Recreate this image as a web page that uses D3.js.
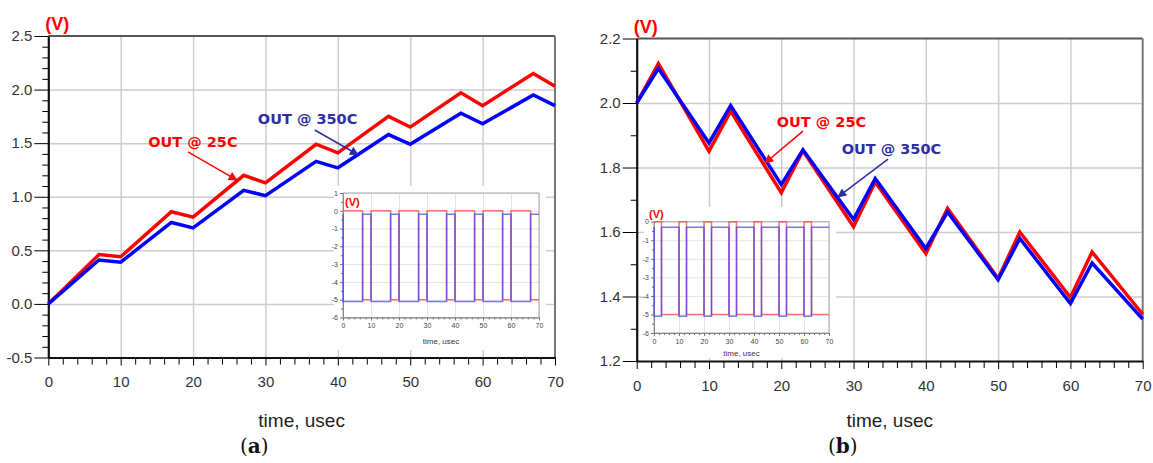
<!DOCTYPE html>
<html>
<head>
<meta charset="utf-8">
<script src="https://cdn.jsdelivr.net/npm/d3@7"></script>
<style>
  body { margin: 0; background: #fff; }
  svg { display: block; font-family: "Liberation Sans", Arial, sans-serif; }
</style>
</head>
<body>
<svg id="fig" width="1153" height="463"></svg>
<script>
// ---- data ----
const timeTicks = [0, 10, 20, 30, 40, 50, 60, 70];

// (a) output ramps
const timeA = [0, 7, 10, 17, 20, 27, 30, 37, 40, 47, 50, 57, 60, 67, 70];
const outA25 = [0, 0.46, 0.44, 0.86, 0.81, 1.20, 1.13, 1.49, 1.41, 1.75, 1.65, 1.97, 1.85, 2.15, 2.03];
const outA350 = [0, 0.41, 0.39, 0.76, 0.71, 1.06, 1.01, 1.33, 1.27, 1.58, 1.49, 1.78, 1.68, 1.95, 1.85];
const yTicksA = [-0.5, 0, 0.5, 1.0, 1.5, 2.0, 2.5];

// (b) output ramps
const timeB = [0, 3, 10, 13, 20, 23, 30, 33, 40, 43, 50, 53, 60, 63, 70];
const outB25 = [2.0, 2.122, 1.851, 1.975, 1.722, 1.852, 1.616, 1.755, 1.533, 1.673, 1.456, 1.60, 1.397, 1.538, 1.345];
const outB350 = [2.0, 2.107, 1.876, 1.992, 1.747, 1.855, 1.639, 1.766, 1.549, 1.662, 1.452, 1.58, 1.378, 1.504, 1.330];
const yTicksB = [1.2, 1.4, 1.6, 1.8, 2.0, 2.2];

// insets: control pulses (step after each time)
const insetTimeA = [0, 0, 7, 10, 17, 20, 27, 30, 37, 40, 47, 50, 57, 60, 67, 70];
const inA25 = [0, 0, -5, 0, -5, 0, -5, 0, -5, 0, -5, 0, -5, 0, -5, -5];
const inA350 = [-0.2, -5.1, -0.2, -5.1, -0.2, -5.1, -0.2, -5.1, -0.2, -5.1, -0.2, -5.1, -0.2, -5.1, -0.2, -0.2];
const insetYTicksA = [1, 0, -1, -2, -3, -4, -5, -6];

const insetTimeB = [0, 0, 3, 10, 13, 20, 23, 30, 33, 40, 43, 50, 53, 60, 63, 70];
const inB25 = [0, 0, -5, 0, -5, 0, -5, 0, -5, 0, -5, 0, -5, 0, -5, -5];
const inB350 = [-0.3, -5.1, -0.3, -5.1, -0.3, -5.1, -0.3, -5.1, -0.3, -5.1, -0.3, -5.1, -0.3, -5.1, -0.3, -0.3];
const insetYTicksB = [0, -1, -2, -3, -4, -5, -6];

// annotation anchors in data units [time, volts]
const labelsA = [
  { text: 'OUT @ 25C', at: [13.8, 1.46], from: [19.3, 1.418], to: [26.05, 1.156], color: '#ff0000' },
  { text: 'OUT @ 350C', at: [28.95, 1.676], from: [36.8, 1.623], to: [42.8, 1.392], color: '#2e2ea3' }
];
const labelsB = [
  { text: 'OUT @ 25C', at: [19.37, 1.926], from: [23.0, 1.913], to: [17.75, 1.814], color: '#ff0000' },
  { text: 'OUT @ 350C', at: [28.36, 1.842], from: [34.77, 1.826], to: [27.85, 1.709], color: '#2e2ea3' }
];

const svg = d3.select('#fig');
const defs = svg.append('defs');

function arrowMarker(id, color) {
  defs.append('marker')
    .attr('id', id)
    .attr('viewBox', '0 0 10 10')
    .attr('refX', 9).attr('refY', 5)
    .attr('markerWidth', 11).attr('markerHeight', 9)
    .attr('markerUnits', 'userSpaceOnUse')
    .attr('orient', 'auto')
    .append('path')
    .attr('d', 'M0,0 L10,5 L0,10 Z')
    .attr('fill', color);
}
arrowMarker('arr-red', '#ff0000');
arrowMarker('arr-blue', '#2e2ea3');

function minorValues(lo, hi, step, majors) {
  return d3.range(lo, hi + step / 2, step)
    .filter(v => !majors.some(m => Math.abs(m - v) < step / 4));
}

function drawInset(g, s) {
  g.append('rect')
    .attr('x', s.boxX).attr('y', s.boxY)
    .attr('width', s.boxW).attr('height', s.boxH)
    .attr('fill', '#fff');

  const x = d3.scaleLinear().domain([0, 70]).range([s.left, s.right]);
  const y = d3.scaleLinear().domain(s.yDomain).range([s.bottom, s.top]);

  // grid
  g.append('g')
    .attr('transform', `translate(0,${s.bottom})`)
    .call(d3.axisBottom(x).tickValues(timeTicks).tickSize(-(s.bottom - s.top)).tickFormat(''))
    .call(a => a.select('.domain').remove())
    .selectAll('line').attr('stroke', '#e3e3e3').attr('stroke-width', 1);
  g.append('g')
    .attr('transform', `translate(${s.left},0)`)
    .call(d3.axisLeft(y).tickValues(s.yTicks).tickSize(-(s.right - s.left)).tickFormat(''))
    .call(a => a.select('.domain').remove())
    .selectAll('line').attr('stroke', '#e3e3e3').attr('stroke-width', 1);

  g.append('rect')
    .attr('x', s.left).attr('y', s.top)
    .attr('width', s.right - s.left).attr('height', s.bottom - s.top)
    .attr('fill', 'none').attr('stroke', '#a8a8a8').attr('stroke-width', 1);

  // axes
  const yAx = g.append('g').attr('transform', `translate(${s.left},0)`)
    .call(d3.axisLeft(y).tickValues(s.yTicks).tickSize(3).tickSizeOuter(0).tickPadding(2).tickFormat(d => String(d)));
  g.append('g').attr('transform', `translate(${s.left},0)`)
    .call(d3.axisLeft(y).tickValues(minorValues(s.yDomain[0], s.yDomain[1], 0.5, s.yTicks)).tickSize(2).tickFormat(''))
    .call(a => a.select('.domain').remove());
  const xAx = g.append('g').attr('transform', `translate(0,${s.bottom})`)
    .call(d3.axisBottom(x).tickValues(timeTicks).tickSize(3).tickSizeOuter(0).tickPadding(3));
  g.append('g').attr('transform', `translate(0,${s.bottom})`)
    .call(d3.axisBottom(x).tickValues(minorValues(0, 70, 2, timeTicks)).tickSize(2).tickFormat(''))
    .call(a => a.select('.domain').remove());
  g.selectAll('.tick line').filter(function () { return !this.getAttribute('stroke') || this.getAttribute('stroke') === 'currentColor'; })
    .attr('stroke', '#777');
  [yAx, xAx].forEach(a => {
    a.select('.domain').attr('stroke', '#888');
    a.selectAll('text').attr('font-size', 7).attr('fill', '#444');
  });

  // pulses
  const step = d3.line().curve(d3.curveStepAfter);
  g.append('path')
    .attr('d', step(s.time.map((t, i) => [x(t), y(s.v25[i])])))
    .attr('fill', 'none').attr('stroke', '#ff3b3b').attr('stroke-opacity', 0.7).attr('stroke-width', 1.5);
  g.append('path')
    .attr('d', step(s.time.map((t, i) => [x(t), y(s.v350[i])])))
    .attr('fill', 'none').attr('stroke', '#3a3aff').attr('stroke-opacity', 0.7).attr('stroke-width', 1.5);

  g.append('text')
    .attr('x', s.vX).attr('y', s.vY)
    .attr('font-size', 11).attr('font-weight', 'bold').attr('fill', '#ff0000')
    .text('(V)');
  g.append('text')
    .attr('x', (s.left + s.right) / 2).attr('y', s.titleY)
    .attr('text-anchor', 'middle').attr('font-size', 8).attr('fill', '#333')
    .text('time, usec');
}

function drawPanel(p) {
  const g = svg.append('g');
  const x = d3.scaleLinear().domain([0, 70]).range([p.left, p.right]);
  const y = d3.scaleLinear().domain(p.yDomain).range([p.bottom, p.top]);

  // grid
  g.append('g')
    .attr('transform', `translate(0,${p.bottom})`)
    .call(d3.axisBottom(x).tickValues(timeTicks.slice(1, -1)).tickSize(-(p.bottom - p.top)).tickFormat(''))
    .call(a => a.select('.domain').remove())
    .selectAll('line').attr('stroke', '#cdcdcd').attr('stroke-width', 1.5);
  g.append('g')
    .attr('transform', `translate(${p.left},0)`)
    .call(d3.axisLeft(y).tickValues(p.yTicks.slice(1, -1)).tickSize(-(p.right - p.left)).tickFormat(''))
    .call(a => a.select('.domain').remove())
    .selectAll('line').attr('stroke', '#cdcdcd').attr('stroke-width', 1.5);

  // frame top + right
  g.append('line')
    .attr('x1', p.left).attr('x2', p.right).attr('y1', p.top).attr('y2', p.top)
    .attr('stroke', '#555').attr('stroke-width', 2);
  g.append('line')
    .attr('x1', p.right).attr('x2', p.right).attr('y1', p.top).attr('y2', p.bottom)
    .attr('stroke', '#777').attr('stroke-width', 2);

  drawInset(g, p.inset);

  // axes
  const fmt = d => d.toFixed(1);
  const yAx = g.append('g').attr('transform', `translate(${p.left},0)`)
    .call(d3.axisLeft(y).tickValues(p.yTicks).tickSize(14).tickSizeOuter(0).tickPadding(2).tickFormat(fmt));
  g.append('g').attr('transform', `translate(${p.left},0)`)
    .call(d3.axisLeft(y).tickValues(minorValues(p.yDomain[0], p.yDomain[1], p.yMinor, p.yTicks)).tickSize(6).tickFormat(''))
    .call(a => a.select('.domain').remove());
  const xAx = g.append('g').attr('transform', `translate(0,${p.bottom})`)
    .call(d3.axisBottom(x).tickValues(timeTicks).tickSize(8).tickSizeOuter(0).tickPadding(11));
  g.append('g').attr('transform', `translate(0,${p.bottom})`)
    .call(d3.axisBottom(x).tickValues(minorValues(0, 70, 2, timeTicks)).tickSize(7).tickFormat(''))
    .call(a => a.select('.domain').remove());
  [yAx, xAx].forEach(a => {
    a.select('.domain').attr('stroke', '#111').attr('stroke-width', 2.2);
    a.selectAll('text').attr('font-size', 15).attr('fill', '#333');
  });

  // series
  const line = d3.line();
  g.append('path')
    .attr('d', line(p.time.map((t, i) => [x(t), y(p.v25[i])])))
    .attr('fill', 'none').attr('stroke', '#ff0000').attr('stroke-width', 3.5).attr('stroke-linejoin', 'miter');
  g.append('path')
    .attr('d', line(p.time.map((t, i) => [x(t), y(p.v350[i])])))
    .attr('fill', 'none').attr('stroke', '#0000ff').attr('stroke-width', 3.5).attr('stroke-linejoin', 'miter');

  // annotations
  p.labels.forEach(l => {
    g.append('line')
      .attr('x1', x(l.from[0])).attr('y1', y(l.from[1]))
      .attr('x2', x(l.to[0])).attr('y2', y(l.to[1]))
      .attr('stroke', l.color).attr('stroke-width', 1.5)
      .attr('marker-end', l.color === '#ff0000' ? 'url(#arr-red)' : 'url(#arr-blue)');
    g.append('text')
      .attr('x', x(l.at[0])).attr('y', y(l.at[1]))
      .attr('font-family', '"DejaVu Sans", sans-serif')
      .attr('font-size', 14.5).attr('font-weight', 'bold')
      .attr('fill', l.color)
      .text(l.text);
  });

  // unit, axis title, caption
  g.append('text')
    .attr('x', p.left - 3).attr('y', p.top - 6)
    .attr('font-size', 18).attr('font-weight', 'bold').attr('fill', '#ff0000')
    .text('(V)');
  g.append('text')
    .attr('x', (p.left + p.right) / 2).attr('y', 427)
    .attr('text-anchor', 'middle').attr('font-size', 19).attr('fill', '#222')
    .text('time, usec');
  const cap = g.append('text')
    .attr('x', p.left + 206).attr('y', 453)
    .attr('text-anchor', 'middle').attr('font-family', '"DejaVu Serif", serif')
    .attr('font-size', 20).attr('fill', '#111');
  cap.append('tspan').text('(');
  cap.append('tspan').attr('font-weight', 'bold').text(p.caption);
  cap.append('tspan').text(')');
}

drawPanel({
  left: 48.3, right: 555, top: 36, bottom: 357.5,
  yDomain: [-0.5, 2.5], yTicks: yTicksA, yMinor: 0.1,
  time: timeA, v25: outA25, v350: outA350,
  labels: labelsA, caption: 'a',
  inset: {
    boxX: 334, boxY: 186, boxW: 212, boxH: 164,
    left: 343, right: 539, top: 193, bottom: 317.5,
    yDomain: [-6, 1], yTicks: insetYTicksA,
    time: insetTimeA, v25: inA25, v350: inA350,
    vX: 345, vY: 206, titleY: 343.5
  }
});

drawPanel({
  left: 636.7, right: 1142.7, top: 38.5, bottom: 361,
  yDomain: [1.2, 2.2], yTicks: yTicksB, yMinor: 0.1,
  time: timeB, v25: outB25, v350: outB350,
  labels: labelsB, caption: 'b',
  inset: {
    boxX: 644, boxY: 207, boxW: 192, boxH: 151,
    left: 654, right: 829, top: 221.7, bottom: 333,
    yDomain: [-6, 0], yTicks: insetYTicksB,
    time: insetTimeB, v25: inB25, v350: inB350,
    vX: 649, vY: 218, titleY: 355.5
  }
});
</script>
</body>
</html>
